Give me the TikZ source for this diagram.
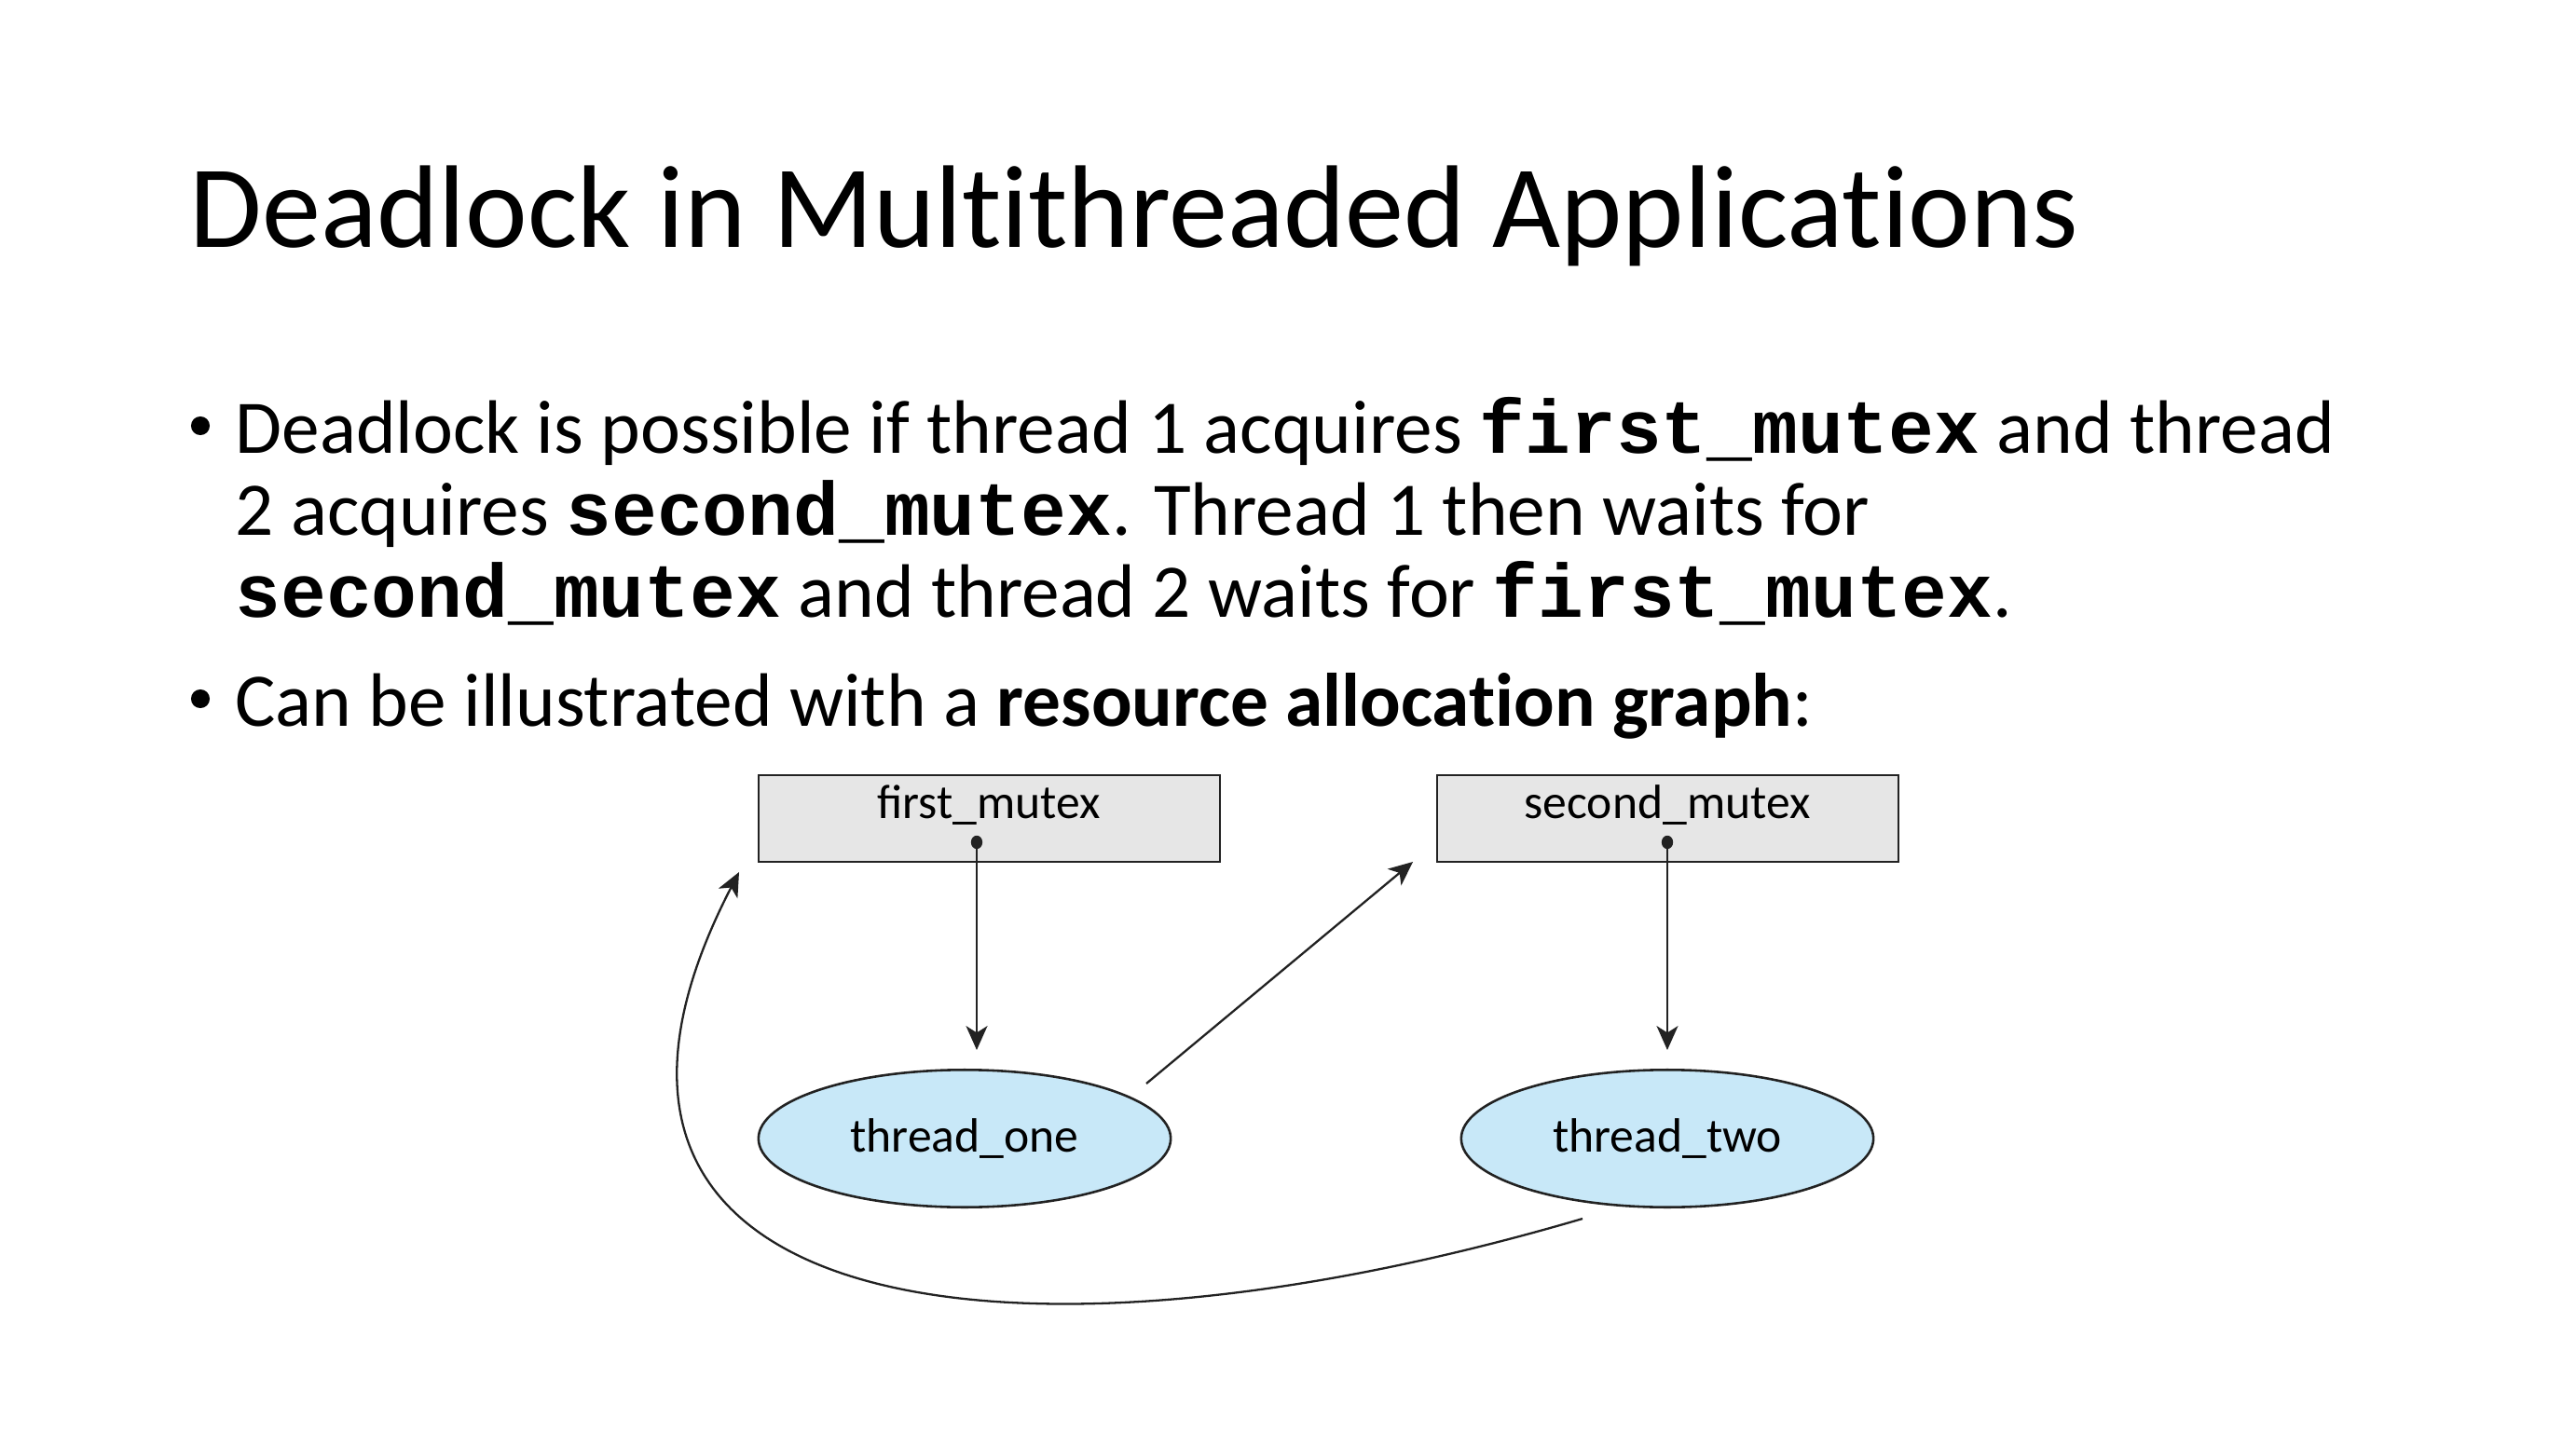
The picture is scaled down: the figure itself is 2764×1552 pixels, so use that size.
\documentclass[tikz,border=0pt]{standalone}
\usepackage{fontspec}
\setmainfont{Carlito}[Ligatures=NoCommon]
\newfontfamily\figfont{Carlito}
\setmonofont{Liberation Mono}
\usetikzlibrary{arrows.meta,calc,shapes.geometric}
\definecolor{boxgray}{HTML}{E6E6E6}
\definecolor{threadblue}{HTML}{C8E8F8}
\definecolor{inkline}{HTML}{222222}
\newcommand{\code}[1]{\textbf{\texttt{#1}}}
\begin{document}
\begin{tikzpicture}[x=0.012253cm,y=-0.012253cm,
  headline/.style={anchor=base west,inner sep=0pt,font=\fontsize{44}{52}\selectfont},
  bodyline/.style={anchor=base west,inner sep=0pt,font=\fontsize{28.35}{34}\selectfont},
  bulletmark/.style={circle,fill=black,minimum size=7pt,inner sep=0pt},
  resbox/.style={draw=inkline,line width=0.9pt,fill=boxgray,rectangle,
    minimum width=172.6pt,minimum height=32.3pt,inner sep=0pt},
  thread/.style={draw=inkline,line width=0.9pt,fill=threadblue,ellipse,
    minimum width=154.2pt,minimum height=51.4pt,inner sep=0pt,
    font=\figfont\fontsize{18}{22}\selectfont},
  boxlabel/.style={anchor=base,inner sep=0pt,font=\figfont\fontsize{18}{22}\selectfont},
  holddot/.style={ellipse,fill=inkline,minimum width=4.3pt,minimum height=5pt,inner sep=0pt},
  flow/.style={draw=inkline,line width=0.8pt,-{Stealth[length=9pt,width=8pt,inset=2.5pt]}}
]
% page
\path[fill=white] (0,0) rectangle (2764,1552);
\useasboundingbox (0,0) rectangle (2764,1552);

% title
\node[headline] (title) at (203,266) {Deadlock in Multithreaded Applications};

% bullets
\node[bulletmark] (b1) at (215,457) {};
\node[bodyline] (l1) at (252,487) {Deadlock is possible if thread 1 acquires \code{first\_mutex} and thread};
\node[bodyline] (l2) at (252,575) {2 acquires \code{second\_mutex}. Thread 1 then waits for};
\node[bodyline] (l3) at (252,663) {\code{second\_mutex} and thread 2 waits for \code{first\_mutex}.};
\node[bulletmark] (b2) at (215,750) {};
\node[bodyline] (l4) at (252,780) {Can be illustrated with a \textbf{resource allocation graph}:};

% resources
\node[resbox] (fm) at (1061.5,878.5) {};
\node[resbox] (sm) at (1789.5,878.5) {};
\node[boxlabel] (fmtext) at (1061,878) {first\_mutex};
\node[boxlabel] (smtext) at (1789,878) {second\_mutex};
\node[holddot] (fmdot) at (1048,904) {};
\node[holddot] (smdot) at (1789,904) {};

% threads
\node[thread] (t1) at (1035,1222) {thread\_one};
\node[thread] (t2) at (1789,1222) {thread\_two};

% assignment edges
\draw[flow] (fmdot.center) -- ($(fmdot.center |- t1.north)+(0,-20)$) coordinate (t1in);
\draw[flow] (smdot.center) -- ($(smdot.center |- t2.north)+(0,-20)$) coordinate (t2in);

% request edges
\coordinate (t1out) at (1230,1163);
\coordinate (smin) at (1516,925);
\draw[flow] (t1out) -- (smin);

\coordinate (t2out) at (1698,1308);
\coordinate (fmin) at (793,936);
\draw[flow] (t2out) .. controls (1080,1490) and (545,1415) .. (fmin);
\end{tikzpicture}
\end{document}
